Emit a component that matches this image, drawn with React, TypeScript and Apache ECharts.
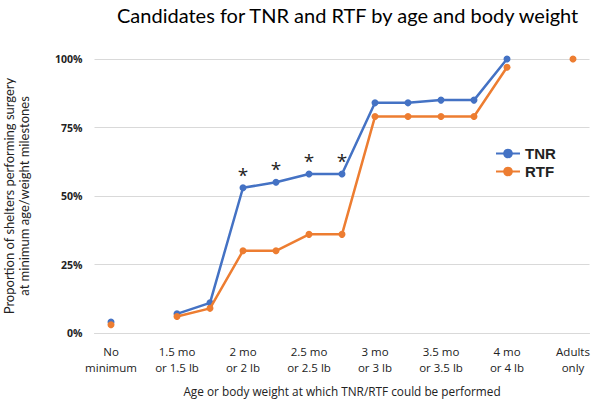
import React, { useEffect, useRef } from "react";
import * as echarts from "echarts";

const categories = [
  "No\nminimum", "", "1.5 mo\nor 1.5 lb", "", "2 mo\nor 2 lb", "", "2.5 mo\nor 2.5 lb", "",
  "3 mo\nor 3 lb", "", "3.5 mo\nor 3.5 lb", "", "4 mo\nor 4 lb", "", "Adults\nonly",
];
const tnrValues: (number | null)[] = [4, null, 7, 11, 53, 55, 58, 58, 84, 84, 85, 85, 100, null, null];
const rtfValues: (number | null)[] = [3, null, 6, 9, 30, 30, 36, 36, 79, 79, 79, 79, 97, null, 100];
const starIndices = [4, 5, 6, 7];
const yTicks = [0, 25, 50, 75, 100];

export default function App() {
  const ref = useRef<HTMLDivElement>(null);
  useEffect(() => {
    document.body.style.margin = "0";
    const chart = echarts.init(ref.current!, undefined, { renderer: "svg" });
    const tnrData = tnrValues.map((v, i) =>
      starIndices.includes(i)
        ? {
            value: v,
            label: {
              show: true,
              position: "top",
              formatter: "*",
              fontSize: 19,
              distance: 0,
              color: "#222",
              fontFamily: "Open Sans",
            },
          }
        : v
    );
    chart.setOption({
      animation: false,
      title: {
        text: "Candidates for TNR and RTF by age and body weight",
        left: 112,
        top: 0,
        textStyle: { fontFamily: "Lato", fontSize: 20, fontWeight: "normal", color: "#000" },
      },
      legend: {
        orient: "vertical",
        left: 490,
        top: 141,
        itemWidth: 24,
        itemHeight: 12,
        itemGap: 3,
        textStyle: { fontFamily: "Liberation Sans", fontSize: 15, fontWeight: "bold", color: "#222" },
        data: ["TNR", "RTF"],
      },
      grid: { left: 94.5, right: 1.5, top: 59, bottom: 66, outerBoundsMode: "none" },
      xAxis: {
        type: "category",
        data: categories,
        boundaryGap: true,
        axisLine: { show: true, lineStyle: { color: "#d9d9d9", width: 1 } },
        axisTick: { show: false },
        axisLabel: {
          interval: 0,
          fontFamily: "Open Sans",
          fontSize: 11.5,
          color: "#222",
          lineHeight: 16,
          margin: 10,
        },
        name: "Age or body weight at which TNR/RTF could be performed",
        nameLocation: "middle",
        nameGap: 52,
        nameTextStyle: { fontFamily: "Open Sans", fontSize: 11.8, color: "#222" },
      },
      yAxis: {
        type: "value",
        min: 0,
        max: 100,
        interval: 25,
        axisLine: { show: false },
        axisTick: { show: false },
        splitLine: { lineStyle: { color: "#d9d9d9", width: 1 } },
        axisLabel: {
          formatter: (v: number) => (yTicks.includes(v) ? v + "%" : ""),
          fontFamily: "Open Sans",
          fontWeight: "bold",
          fontSize: 10.5,
          color: "#222",
          margin: 12,
        },
        name: "Proportion of shelters performing surgery\nat minimum age/weight milestones",
        nameLocation: "middle",
        nameGap: 63,
        nameRotate: 90,
        nameTextStyle: { fontFamily: "Lato", fontSize: 13, color: "#222", lineHeight: 15 },
      },
      series: [
        {
          name: "TNR",
          type: "line",
          data: tnrData,
          connectNulls: false,
          symbol: "circle",
          symbolSize: 7,
          itemStyle: { color: "#4472C4" },
          lineStyle: { color: "#4472C4", width: 2.5 },
          z: 3,
        },
        {
          name: "RTF",
          type: "line",
          data: rtfValues,
          connectNulls: false,
          symbol: "circle",
          symbolSize: 7,
          itemStyle: { color: "#ED7D31" },
          lineStyle: { color: "#ED7D31", width: 2.5 },
          z: 4,
        },
      ],
    });
    return () => chart.dispose();
  }, []);
  return <div ref={ref} style={{ width: 591, height: 399 }} />;
}
